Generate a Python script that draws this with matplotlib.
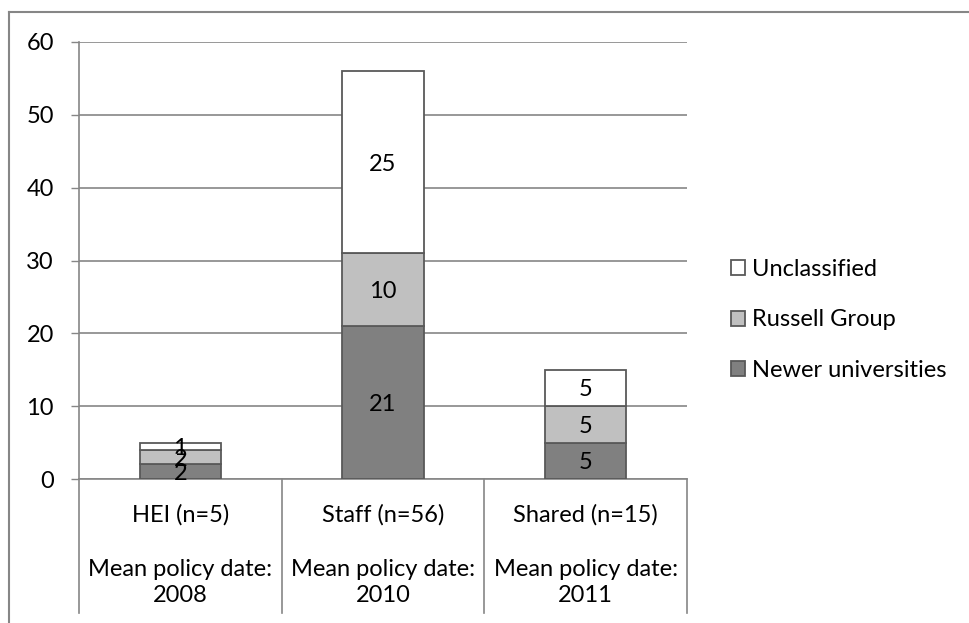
import matplotlib
matplotlib.use("Agg")
import matplotlib.pyplot as plt
from matplotlib.lines import Line2D
import matplotlib.transforms as mtransforms
import numpy as np

categories = ["HEI (n=5)", "Staff (n=56)", "Shared (n=15)"]
mean_dates = ["2008", "2010", "2011"]
newer = [2, 21, 5]
russell = [2, 10, 5]
unclassified = [1, 25, 5]
series_names = ["Newer universities", "Russell Group", "Unclassified"]
series_colors = ["#808080", "#c0c0c0", "#ffffff"]
yticks = [0, 10, 20, 30, 40, 50, 60]

plt.rcParams['font.family'] = ['Lato', 'DejaVu Sans']
FS = 17
W, H = 970, 623
fig = plt.figure(figsize=(W / 100, H / 100), dpi=100)
ax = fig.add_axes([79 / W, 1 - 479 / H, (687 - 79) / W, (479 - 42) / H])

x = np.arange(len(categories))
bottom = np.zeros(len(categories))
edge = "#595959"
bars_all = []
for vals, name, col in zip([newer, russell, unclassified], series_names, series_colors):
    b = ax.bar(x, vals, width=0.4, bottom=bottom, color=col, edgecolor=edge,
               linewidth=1.3, label=name, zorder=3)
    for xi, v, b0 in zip(x, vals, bottom):
        ax.text(xi, b0 + v / 2, str(v), ha="center", va="center_baseline", fontsize=FS,
                color="black", zorder=4)
    bars_all.append(b)
    bottom = bottom + np.array(vals)

ax.set_xlim(-0.5, 2.5)
ax.set_ylim(0, 60)
ax.set_yticks(yticks)
ax.set_yticklabels([str(t) for t in yticks], fontsize=FS)
ax.tick_params(axis="y", length=6, width=1, color="#868686", pad=12)
ax.set_xticks([])
ax.yaxis.grid(True, color="#868686", linewidth=1.2, zorder=0)
ax.set_axisbelow(True)
for s in ["top", "right"]:
    ax.spines[s].set_visible(False)
ax.spines["left"].set_color("#868686")
ax.spines["bottom"].set_color("#868686")
ax.spines["left"].set_linewidth(1.2)
ax.spines["bottom"].set_linewidth(1.2)

# multi-level category axis
trans = mtransforms.blended_transform_factory(ax.transData, ax.transAxes)

def ay(px):
    return -(px - 479) / (479 - 42)

for sx in [-0.5, 0.5, 1.5, 2.5]:
    ax.plot([sx, sx], [0, ay(613)], transform=trans, color="#868686", lw=1.2, clip_on=False)

for xi, cat, d in zip(x, categories, mean_dates):
    ax.text(xi, ay(522), cat, transform=trans, ha="center", va="baseline", fontsize=FS)
    ax.text(xi, ay(576), "Mean policy date:", transform=trans, ha="center", va="baseline", fontsize=FS)
    ax.text(xi, ay(602), d, transform=trans, ha="center", va="baseline", fontsize=FS)

handles = [bars_all[2], bars_all[1], bars_all[0]]
labels = [series_names[2], series_names[1], series_names[0]]
leg = fig.legend(handles, labels, loc="center left", bbox_to_anchor=(710 / W, 1 - 320 / H),
                 frameon=False, fontsize=FS, handlelength=0.6, handleheight=0.6,
                 handletextpad=0.3, labelspacing=1.25)

# outer chart border (cropped)
fig.add_artist(Line2D([9 / W, 1], [1 - 12 / H, 1 - 12 / H], transform=fig.transFigure,
                      color="#868686", lw=1.5))
fig.add_artist(Line2D([9 / W, 9 / W], [0, 1 - 12 / H], transform=fig.transFigure,
                      color="#868686", lw=1.5))

fig.savefig("out.png", dpi=100)
